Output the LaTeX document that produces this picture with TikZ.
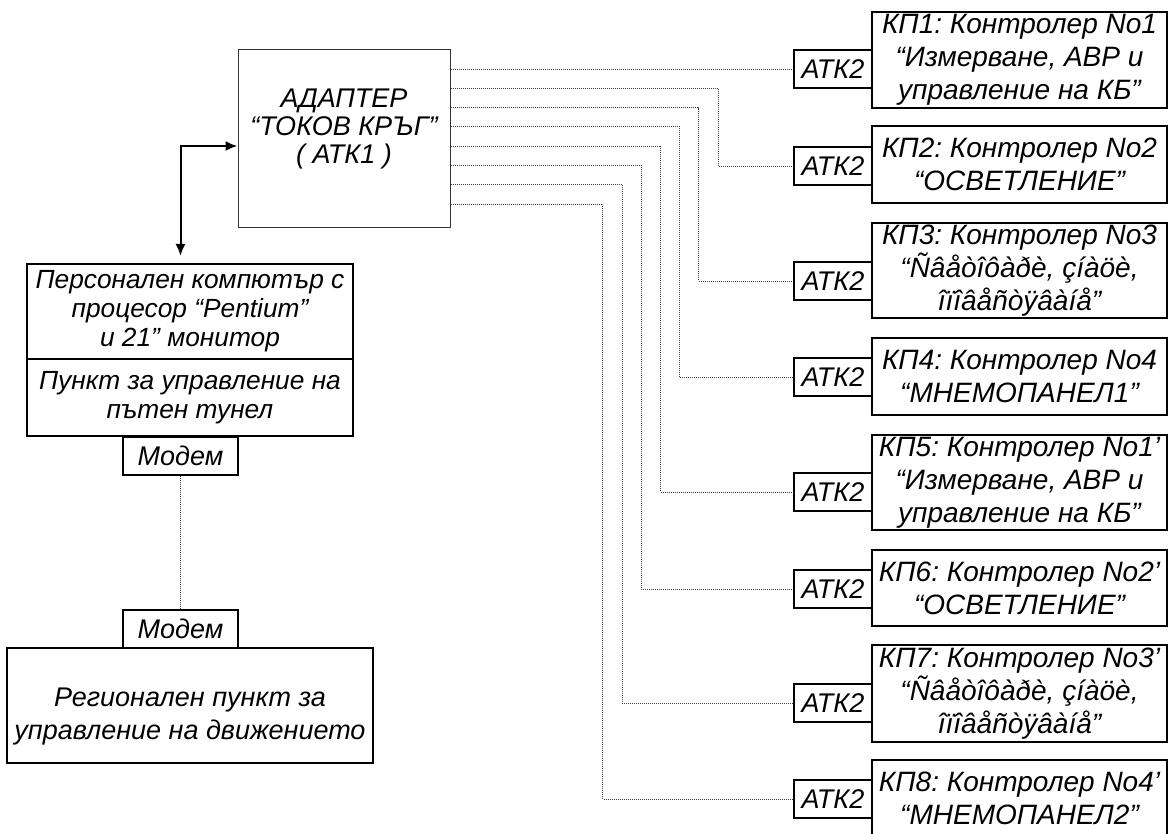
\documentclass[tikz,border=0pt]{standalone}
\usepackage{fontspec}
\setmainfont{Liberation Sans}
\frenchspacing
\usetikzlibrary{arrows.meta}
\begin{document}
\begin{tikzpicture}[x=1pt,y=-1pt,
  every node/.style={inner sep=0pt, align=center},
  kpbox/.style={draw, line width=2.2pt, minimum width=295pt, font=\itshape\fontsize{28}{33}\selectfont},
  atkbox/.style={draw, line width=1.8pt, minimum width=78pt, minimum height=38pt, font=\itshape\fontsize{27}{30}\selectfont},
  pcbox/.style={draw, line width=2pt, minimum width=326pt, font=\itshape\fontsize{26.3}{29}\selectfont},
  modembox/.style={draw, line width=2pt, minimum width=115pt, minimum height=38pt, font=\itshape\fontsize{27}{30}\selectfont},
  dotline/.style={line width=0.9pt, draw=black!75, dash pattern=on 1pt off 1pt},
  arr/.style={line width=2pt, {Latex[length=12pt,width=10pt]}-{Latex[length=12pt,width=10pt]}}
]
\clip (0,0) rectangle (1169,834);
\fill[white] (0,0) rectangle (1169,834);

% adapter
\node[draw, line width=1pt, draw=black!80, minimum width=212pt, minimum height=178pt,
  label={[font=\itshape\fontsize{27}{28}\selectfont, yshift=10pt]center:{АДАПТЕР\\“ТОКОВ КРЪГ”\\( АТК1 )}}]
  (ad) at (344,139) {};

% left column
\node[pcbox, minimum height=95pt] (pc) at (190,311.5) {Персонален компютър с\\процесор “Pentium”\\и 21” монитор};
\node[pcbox, minimum height=77pt] (pt) at (190,397.5) {Пункт за управление на\\пътен тунел};
\node[modembox] (m1) at (180.5,455.5) {Модем};
\node[modembox] (m2) at (180.5,629) {Модем};
\node[draw, line width=1.6pt, minimum width=366pt, minimum height=115pt,
  label={[font=\itshape\fontsize{27}{33}\selectfont, yshift=-11pt]center:{Регионален пункт за\\управление на движението}}]
  (reg) at (190,705.5) {};

% controllers
\node[kpbox, minimum height=96pt] (kp1) at (1019.5,60) {КП1: Контролер No1\\“Измерване, АВР и\\управление на КБ”};
\node[kpbox, minimum height=77pt] (kp2) at (1019.5,164.5) {КП2: Контролер No2\\“ОСВЕТЛЕНИЕ”};
\node[kpbox, minimum height=95pt] (kp3) at (1019.5,270.5) {КП3: Контролер No3\\“Ñâåòîôàðè, çíàöè,\\îïîâåñòÿâàíå”};
\node[kpbox, minimum height=77pt] (kp4) at (1019.5,376.5) {КП4: Контролер No4\\“МНЕМОПАНЕЛ1”};
\node[kpbox, minimum height=95pt] (kp5) at (1019.5,482.5) {КП5: Контролер No1’\\“Измерване, АВР и\\управление на КБ”};
\node[kpbox, minimum height=76pt] (kp6) at (1019.5,588) {КП6: Контролер No2’\\“ОСВЕТЛЕНИЕ”};
\node[kpbox, minimum height=97pt] (kp7) at (1019.5,693.5) {КП7: Контролер No3’\\“Ñâåòîôàðè, çíàöè,\\îïîâåñòÿâàíå”};
\node[kpbox, minimum height=77pt] (kp8) at (1019.5,798.5) {КП8: Контролер No4’\\“МНЕМОПАНЕЛ2”};

% ATK2 adapters
\foreach \i/\y in {1/69,2/166,3/281,4/377,5/492,6/589,7/703,8/799}{
  \node[atkbox] (a\i) at (833,\y) {АТК2};
}

% connectors adapter -> ATK2
\draw[dotline] (ad.east |- a1.west) -- (a1.west);
\foreach \i/\ys/\xv in {2/88.3/718,3/107.6/698.8,4/126.9/679.6,5/146.2/660.4,6/165.5/641.2,7/184.8/622,8/204.1/602.8}{
  \coordinate (s\i) at (451,\ys);
  \coordinate (b\i) at (\xv,0);
  \draw[dotline] (ad.east |- s\i) -| (b\i |- a\i.west) -- (a\i.west);
}

% PC <-> adapter
\coordinate (k) at (181,146);
\draw[arr, shorten <=7pt] (m1 |- pc.north) |- (ad.west |- k);

% modem link
\draw[dotline] (m1.south) -- (m2.north);
\end{tikzpicture}
\end{document}
